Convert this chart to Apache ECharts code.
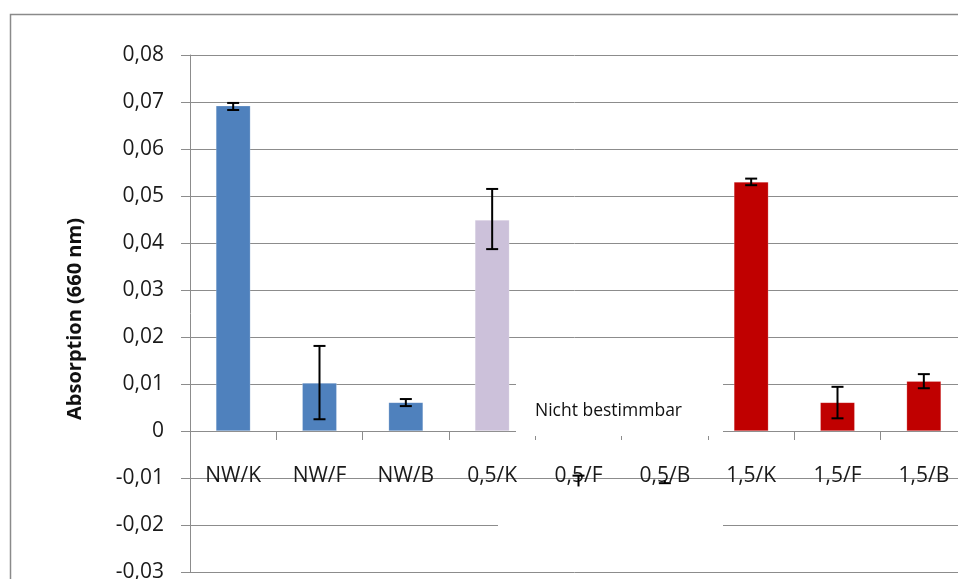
<!DOCTYPE html>
<html>
<head>
<meta charset="utf-8">
<title>Absorption (660 nm)</title>
<script src="https://cdn.jsdelivr.net/npm/echarts@6/dist/echarts.min.js"></script>
<style>
  html, body { margin: 0; padding: 0; background: #fff; }
  #chart { width: 958px; height: 579px; }
</style>
</head>
<body>
<div id="chart"></div>
<script>
// Samples: NW = untreated, 0,5 / 1,5 = treatment levels; K/F/B = sample fractions
const categories = ['NW/K', 'NW/F', 'NW/B', '0,5/K', '0,5/F', '0,5/B', '1,5/K', '1,5/F', '1,5/B'];
// Mean absorption at 660 nm (0,5/F and 0,5/B could not be determined)
const means = [0.0692, 0.0102, 0.0061, 0.0449, null, null, 0.0530, 0.0061, 0.0106];
// Upper and lower ends of the error bars
const errHigh = [0.0698, 0.0181, 0.0068, 0.0515, -0.0095, -0.0105, 0.0537, 0.0094, 0.0121];
const errLow  = [0.0683, 0.0025, 0.0053, 0.0387, -0.0118, -0.0111, 0.0523, 0.0027, 0.0091];
// Whether each error bar end carries a cap
const capTop    = [1, 1, 1, 1, 1, 0, 1, 1, 1];
const capBottom = [1, 1, 1, 1, 0, 1, 1, 1, 1];
// Y axis tick range
const yMin = -0.03, yMax = 0.08, yStep = 0.01;

const groupColors = { 'NW': '#4F81BD', '0,5': '#CCC1DA', '1,5': '#C00000' };
const FONT = '"Open Sans", "Noto Sans", sans-serif';
const GRID_GRAY = '#8c8c8c';

const GRID = { left: 190, top: 55, width: 777, height: 517 };
// the category axis sits on the zero line: shift it up from the grid bottom
const zeroOffset = -GRID.height * (0 - yMin) / (yMax - yMin);

const chart = echarts.init(document.getElementById('chart'), null, { renderer: 'canvas' });

const barData = means.map((v, i) => ({
  value: v,
  itemStyle: { color: groupColors[categories[i].split('/')[0]] }
}));

const errData = categories.map((c, i) => [i, errHigh[i], errLow[i], capTop[i], capBottom[i]]);

function renderErrorBar(params, api) {
  const idx = api.value(0);
  const top = api.coord([idx, api.value(1)]);
  const bot = api.coord([idx, api.value(2)]);
  const x = top[0];
  const half = 6;
  const style = { stroke: '#000', lineWidth: 2 };
  const children = [
    { type: 'line', shape: { x1: x, y1: top[1], x2: x, y2: bot[1] }, style: style }
  ];
  if (api.value(3)) {
    children.push({ type: 'line', shape: { x1: x - half, y1: top[1], x2: x + half, y2: top[1] }, style: style });
  }
  if (api.value(4)) {
    children.push({ type: 'line', shape: { x1: x - half, y1: bot[1], x2: x + half, y2: bot[1] }, style: style });
  }
  return { type: 'group', children: children };
}

const option = {
  backgroundColor: '#fff',
  animation: false,
  grid: Object.assign({ outerBoundsMode: 'none', containLabel: false }, GRID),
  xAxis: {
    type: 'category',
    data: categories,
    position: 'bottom',
    offset: zeroOffset,
    axisLine: { onZero: false, lineStyle: { color: GRID_GRAY, width: 1 } },
    axisTick: { show: true, length: 9, lineStyle: { color: GRID_GRAY } },
    axisLabel: { color: '#1a1a1a', fontFamily: FONT, fontSize: 21, margin: 35, interval: 0 },
    splitLine: { show: false }
  },
  yAxis: {
    type: 'value',
    min: yMin,
    max: yMax,
    interval: yStep,
    axisLine: { show: true, lineStyle: { color: GRID_GRAY, width: 1 } },
    axisTick: { show: true, length: 9, lineStyle: { color: GRID_GRAY } },
    axisLabel: {
      color: '#1a1a1a', fontFamily: FONT, fontSize: 21, margin: 26,
      formatter: v => Math.abs(v) < 1e-9 ? '0' : v.toFixed(2).replace('.', ',')
    },
    splitLine: { show: true, lineStyle: { color: GRID_GRAY, width: 1 } }
  },
  series: [
    {
      type: 'bar',
      data: barData,
      barWidth: '40%',
      itemStyle: { borderColor: 'rgba(255,255,255,0.35)', borderWidth: 0.6 },
      z: 2
    },
    {
      type: 'custom',
      data: errData,
      renderItem: renderErrorBar,
      encode: { x: 0, y: [1, 2] },
      z: 20
    }
  ],
  graphic: [
    // chart area frame
    { type: 'rect', left: 8, top: 12, shape: { width: 980, height: 600 },
      style: { fill: 'none', stroke: '#8a8a8a', lineWidth: 1.5 }, z: 30, silent: true },
    // annotation box over the undetermined samples
    { type: 'rect', left: 516, top: 378, shape: { width: 207, height: 58 },
      style: { fill: '#fff' }, z: 10, silent: true },
    { type: 'rect', left: 498, top: 492, shape: { width: 225, height: 70 },
      style: { fill: '#fff' }, z: 10, silent: true },
    { type: 'text', x: 535, y: 411,
      style: { text: 'Nicht bestimmbar', fill: '#111', font: '17.5px ' + FONT,
               align: 'left', verticalAlign: 'middle' }, z: 11, silent: true },
    // y axis title
    { type: 'text', x: 75, y: 319, rotation: Math.PI / 2,
      style: { text: 'Absorption (660 nm)', fill: '#111', font: 'bold 20px ' + FONT,
               align: 'center', verticalAlign: 'middle' }, z: 11, silent: true }
  ]
};

chart.setOption(option);
</script>
</body>
</html>
